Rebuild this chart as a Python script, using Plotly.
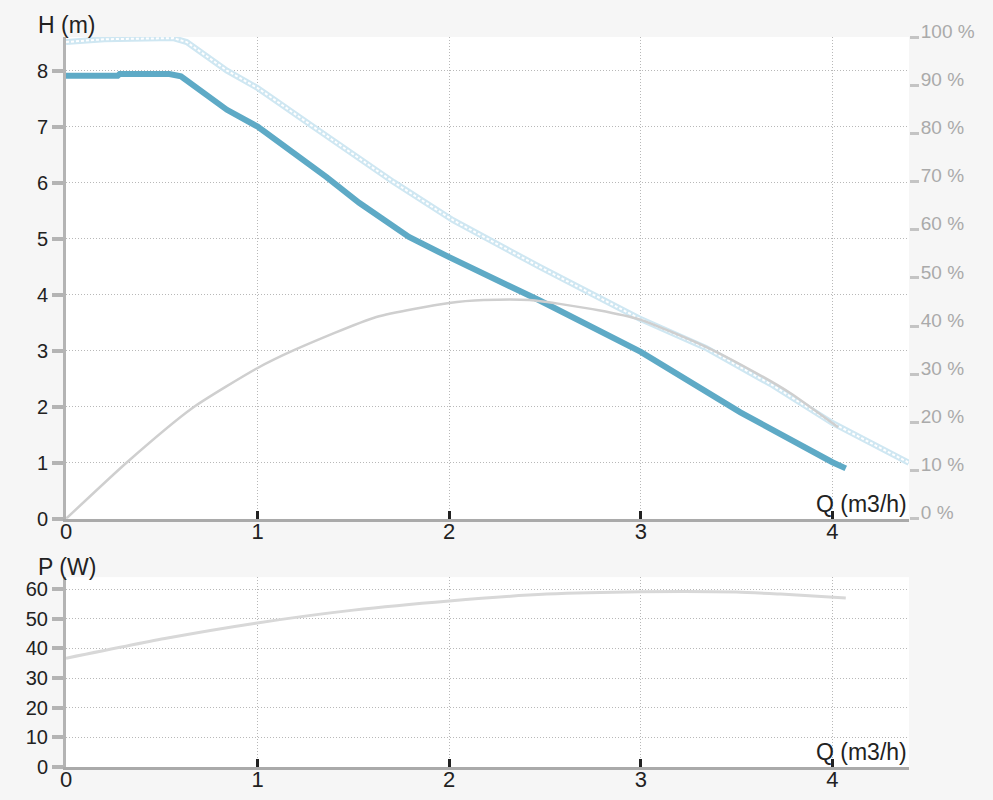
import plotly.graph_objects as go

# pump curve
q_head = [0, 0.27, 0.28, 0.54, 0.6, 0.72, 0.84, 1.0, 1.18, 1.36, 1.53, 1.71, 1.79,
          2.0, 2.3, 2.47, 3.0, 3.52, 4.0, 4.07]
head = [7.91, 7.91, 7.94, 7.94, 7.9, 7.6, 7.3, 7.0, 6.55, 6.1, 5.64, 5.2, 5.03,
        4.67, 4.17, 3.9, 2.98, 1.9, 1.01, 0.9]

q_head_max = [0, 0.2, 0.56, 0.63, 0.84, 1.0, 1.29, 1.71, 2.02, 2.47, 2.99, 3.34,
              3.69, 4.0, 4.4]
head_max = [8.51, 8.56, 8.58, 8.51, 8.0, 7.69, 7.0, 6.01, 5.33, 4.5, 3.58, 3.05,
            2.38, 1.71, 1.0]

q_eta = [0, 0.32, 0.66, 1.0, 1.19, 1.62, 2.0, 2.18, 2.42, 2.78, 3.0, 3.34, 3.6,
         3.78, 4.03]
eta = [0, 11.8, 23, 31.3, 35, 41.9, 44.8, 45.4, 45.4, 43.3, 41.3, 35.7, 30.3,
       26.1, 19.0]

q_power = [0, 0.53, 0.99, 1.5, 2.0, 2.51, 3.0, 3.5, 3.73, 4.07]
power = [36.7, 43.5, 48.5, 52.9, 56, 58.3, 59.1, 59, 58.3, 57]

q_ticks = [0, 1, 2, 3, 4]
h_ticks = [0, 1, 2, 3, 4, 5, 6, 7, 8]
eta_ticks = [0, 10, 20, 30, 40, 50, 60, 70, 80, 90, 100]
eta_labels = [f"{v} %" for v in eta_ticks]
p_ticks = [0, 10, 20, 30, 40, 50, 60]

FONT = "Liberation Sans, Arial, sans-serif"
DARK = "#222222"
AXIS = "#b4b4b4"
GRID = "#b8b8b8"
PCT = "#aaaaaa"
PCT_TICK = "#c4c4c4"

fig = go.Figure()

# max curve: light blue "chain" line
fig.add_trace(go.Scatter(x=q_head_max, y=head_max, mode="lines",
                         line=dict(color="#cfe7f2", width=6),
                         xaxis="x", yaxis="y", hoverinfo="skip"))
fig.add_trace(go.Scatter(x=q_head_max, y=head_max, mode="lines",
                         line=dict(color="#ffffff", width=2, dash="3px,2px"),
                         xaxis="x", yaxis="y", hoverinfo="skip"))
# efficiency
fig.add_trace(go.Scatter(x=q_eta, y=eta, mode="lines",
                         line=dict(color="#cfcfcf", width=2.5, shape="spline", smoothing=0.6),
                         xaxis="x", yaxis="y2"))
# head
fig.add_trace(go.Scatter(x=q_head, y=head, mode="lines",
                         line=dict(color="#5eaac6", width=6),
                         xaxis="x", yaxis="y"))
# power
fig.add_trace(go.Scatter(x=q_power, y=power, mode="lines",
                         line=dict(color="#d8d8d8", width=3, shape="spline", smoothing=0.6),
                         xaxis="x2", yaxis="y3"))

xaxis_style = dict(
    range=[0, 4.4], tickmode="array", tickvals=q_ticks, showline=True,
    linecolor="#aaaaaa", linewidth=3,
    ticks="inside", ticklen=8, tickwidth=3, tickcolor=DARK,
    showgrid=True, gridcolor=GRID, griddash="1px,2px", gridwidth=1,
    tickfont=dict(size=22, color=DARK, family=FONT), zeroline=False,
    ticklabelstandoff=-9, automargin=False,
)
yaxis_style = dict(
    showline=True, linecolor=AXIS, linewidth=3,
    ticks="outside", ticklen=11, tickwidth=4, tickcolor=AXIS,
    showgrid=True, gridcolor=GRID, griddash="1px,2px", gridwidth=1,
    tickfont=dict(size=20, color=DARK, family=FONT), zeroline=False,
    automargin=False,
)
# inner half of the crossing tick marks
inner_style = dict(
    showline=False, showgrid=False, zeroline=False, showticklabels=False,
    ticks="inside", tickwidth=4, automargin=False,
)

fig.update_layout(
    width=993, height=800,
    margin=dict(l=66, r=84, t=37, b=33),
    paper_bgcolor="#f6f6f6",
    plot_bgcolor="#ffffff",
    showlegend=False,
    font=dict(family=FONT, color=DARK),
    xaxis=dict(**xaxis_style, anchor="y"),
    yaxis=dict(**yaxis_style, range=[0, 8.6], tickmode="array", tickvals=h_ticks,
               domain=[0.34, 1]),
    yaxis2=dict(range=[0, 100], tickmode="array", tickvals=eta_ticks, ticktext=eta_labels,
                overlaying="y", side="right", anchor="x", showgrid=False, zeroline=False,
                showline=False, ticks="outside", ticklen=9, tickwidth=3,
                tickcolor=PCT_TICK, automargin=False, ticklabelshift=-6,
                ticklabelstandoff=-2,
                tickfont=dict(size=19, color=PCT, family=FONT)),
    yaxis4=dict(**inner_style, ticklen=10, tickcolor=AXIS, range=[0, 8.6],
                tickmode="array", tickvals=h_ticks, overlaying="y", side="left",
                anchor="x"),
    yaxis6=dict(**inner_style, ticklen=8, tickcolor=PCT_TICK, range=[0, 100],
                tickmode="array", tickvals=eta_ticks, overlaying="y", side="right",
                anchor="x"),
    xaxis2=dict(**xaxis_style, anchor="y3"),
    yaxis3=dict(**yaxis_style, range=[0, 64], tickmode="array", tickvals=p_ticks,
                domain=[0, 0.26]),
    yaxis5=dict(**inner_style, ticklen=10, tickcolor=AXIS, range=[0, 64],
                tickmode="array", tickvals=p_ticks, overlaying="y3", side="left",
                anchor="x2"),
)

title_font = dict(size=23, color=DARK, family=FONT)
fig.add_annotation(text="H (m)", xref="paper", yref="paper", x=-0.036, y=1.0164,
                   xanchor="left", yanchor="middle", showarrow=False, font=title_font)
fig.add_annotation(text="P (W)", xref="paper", yref="paper", x=-0.036, y=0.274,
                   xanchor="left", yanchor="middle", showarrow=False, font=title_font)
fig.add_annotation(text="Q (m3/h)", xref="x", yref="y", x=4.4, y=0,
                   xanchor="right", yanchor="bottom", showarrow=False, font=title_font)
fig.add_annotation(text="Q (m3/h)", xref="x2", yref="y3", x=4.4, y=0,
                   xanchor="right", yanchor="bottom", showarrow=False, font=title_font)

fig.write_html("out.html", config={"displayModeBar": False},
               post_script="document.body.style.margin='0px';"
                           "document.body.style.background='#f6f6f6';")
